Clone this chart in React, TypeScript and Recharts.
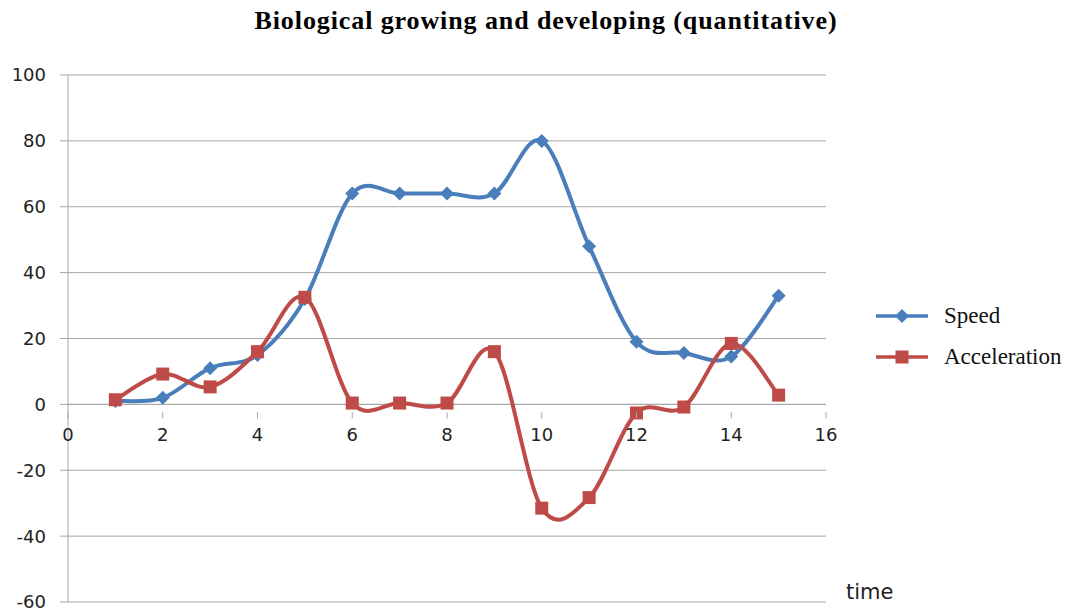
import { LineChart, Line, XAxis, YAxis, CartesianGrid, ReferenceLine } from 'recharts';

const time = [1, 2, 3, 4, 5, 6, 7, 8, 9, 10, 11, 12, 13, 14, 15];
const speed = [1, 2, 11, 15, 32, 64, 64, 64, 64, 80, 48, 19, 15.6, 14.5, 33];
const acceleration = [1.4, 9.2, 5.3, 16, 32.5, 0.4, 0.4, 0.4, 16, -31.5, -28.3, -2.6, -0.8, 18.5, 2.8];
const xTicks = [0, 2, 4, 6, 8, 10, 12, 14, 16];
const yTicks = [-60, -40, -20, 0, 20, 40, 60, 80, 100];

const data = time.map((t, i) => ({ t, speed: speed[i], acceleration: acceleration[i] }));

const BLUE = '#4a7ebb';
const RED = '#be4b48';
const GRID = '#a6a6a6';
const TICK_FONT = 'DejaVu Sans';

const W = 1068;
const H = 610;
const M = { top: 75, right: 242, bottom: 0, left: 8 };
const Y_AXIS_W = 60;
const X_AXIS_H = 8;
const PLOT_H = H - M.top - M.bottom - X_AXIS_H;
const Y_MIN = -60;
const Y_MAX = 100;
// distance from the bottom of the plot up to the zero line
const ZERO_LIFT = (PLOT_H * (0 - Y_MIN)) / (Y_MAX - Y_MIN);

// Excel-like smoothing (Catmull-Rom through every point)
function smooth(context: any) {
  let pts: number[][] = [];
  return {
    areaStart() {},
    areaEnd() {},
    lineStart() {
      pts = [];
    },
    point(x: number, y: number) {
      pts.push([+x, +y]);
    },
    lineEnd() {
      if (!pts.length) return;
      context.moveTo(pts[0][0], pts[0][1]);
      for (let i = 0; i < pts.length - 1; i++) {
        const p0 = pts[i - 1] || pts[i];
        const p1 = pts[i];
        const p2 = pts[i + 1];
        const p3 = pts[i + 2] || p2;
        context.bezierCurveTo(
          p1[0] + (p2[0] - p0[0]) / 6,
          p1[1] + (p2[1] - p0[1]) / 6,
          p2[0] - (p3[0] - p1[0]) / 6,
          p2[1] - (p3[1] - p1[1]) / 6,
          p2[0],
          p2[1]
        );
      }
    },
  };
}

function Diamond({ cx, cy, fill, size = 7 }: any) {
  if (cx == null || cy == null) return null;
  const r = size;
  return <path d={`M${cx},${cy - r}L${cx + r},${cy}L${cx},${cy + r}L${cx - r},${cy}Z`} fill={fill} />;
}

function Square({ cx, cy, fill, size = 13 }: any) {
  if (cx == null || cy == null) return null;
  return <rect x={cx - size / 2} y={cy - size / 2} width={size} height={size} fill={fill} />;
}

function XTick({ x, y, payload }: any) {
  const zy = y - ZERO_LIFT;
  return (
    <g>
      <line x1={x} x2={x} y1={zy} y2={zy + 6} stroke={GRID} />
      <text x={x} y={zy + 29} textAnchor="middle" fontFamily={TICK_FONT} fontSize={18} fill="#222">
        {payload.value}
      </text>
    </g>
  );
}

function LegendBox() {
  const items = [
    { name: 'Speed', color: BLUE, shape: 'diamond' },
    { name: 'Acceleration', color: RED, shape: 'square' },
  ];
  return (
    <div style={{ position: 'absolute', left: 876, top: 295 }}>
      {items.map((it) => (
        <div key={it.name} style={{ display: 'flex', alignItems: 'center', height: 41 }}>
          <svg width={60} height={20}>
            <line x1={0} x2={52} y1={10} y2={10} stroke={it.color} strokeWidth={3.5} />
            {it.shape === 'diamond' ? <Diamond cx={26} cy={10} fill={it.color} /> : <Square cx={26} cy={10} fill={it.color} />}
          </svg>
          <span style={{ fontFamily: 'Liberation Serif', fontSize: 23, color: '#111', marginLeft: 8, whiteSpace: 'nowrap' }}>
            {it.name}
          </span>
        </div>
      ))}
    </div>
  );
}

export default function App() {
  return (
    <div style={{ position: 'absolute', left: 0, top: 0, width: W, height: H, background: '#fff' }}>
      <div
        style={{
          position: 'absolute',
          left: 0,
          top: 6,
          width: 1092,
          textAlign: 'center',
          fontFamily: 'Liberation Serif',
          fontWeight: 'bold',
          fontSize: 26,
          letterSpacing: 0.9,
          color: '#000',
        }}
      >
        Biological growing and developing (quantitative)
      </div>
      <LineChart width={W} height={H} data={data} margin={M}>
        <CartesianGrid vertical={false} stroke={GRID} />
        <XAxis
          dataKey="t"
          type="number"
          domain={[0, 16]}
          ticks={xTicks}
          height={X_AXIS_H}
          axisLine={false}
          tickLine={false}
          tick={<XTick />}
          interval={0}
          label={{ value: 'time', position: 'right', dx: 15, dy: -14, fontFamily: TICK_FONT, fontSize: 21, fill: '#222' }}
        />
        <YAxis
          domain={[Y_MIN, Y_MAX]}
          ticks={yTicks}
          width={Y_AXIS_W}
          axisLine={{ stroke: GRID }}
          tickLine={{ stroke: GRID }}
          tickSize={8}
          tickMargin={14}
          interval={0}
          tick={{ fontFamily: TICK_FONT, fontSize: 18, fill: '#222' }}
        />
        <ReferenceLine y={0} stroke={GRID} />
        <Line
          dataKey="speed"
          name="Speed"
          type={smooth as any}
          stroke={BLUE}
          strokeWidth={4}
          dot={<Diamond fill={BLUE} />}
          isAnimationActive={false}
        />
        <Line
          dataKey="acceleration"
          name="Acceleration"
          type={smooth as any}
          stroke={RED}
          strokeWidth={4}
          dot={<Square fill={RED} />}
          isAnimationActive={false}
        />
      </LineChart>
      <LegendBox />
    </div>
  );
}
